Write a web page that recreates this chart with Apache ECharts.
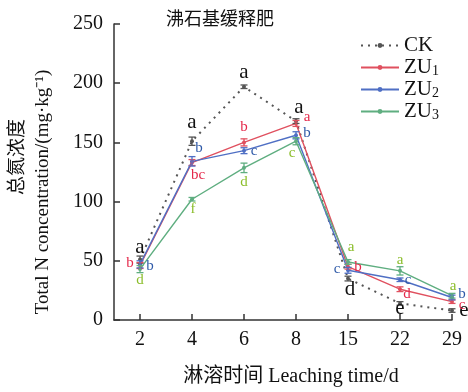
<!DOCTYPE html>
<html>
<head>
<meta charset="utf-8">
<script src="https://cdn.jsdelivr.net/npm/echarts@6/dist/echarts.min.js"></script>
<style>
  html, body { margin: 0; padding: 0; background: #fff; }
  #chart { width: 468px; height: 392px; }
</style>
</head>
<body>
<div id="chart"></div>
<script>
// leaching days
const days = ["2", "4", "6", "8", "15", "22", "29"];
// total N (mg/kg)
const ck = [51, 151, 197, 168, 35, 14, 8];
const zu1 = [46, 133, 150, 166, 45, 26, 15.5];
const zu2 = [47, 134, 143, 156, 42, 34, 19];
const zu3 = [43, 102, 128.5, 151, 49, 41.5, 20.5];
// error bars
const ckErr = [3, 3.5, 1.5, 2, 2, 1.5, 1.5];
const zu1Err = [2.5, 2.5, 3, 2.5, 2, 2, 1.5];
const zu2Err = [3, 4, 2.5, 3, 2.5, 1.5, 2];
const zu3Err = [3, 1.5, 4, 3, 2, 3.5, 2];
// significance letters
const ckSig = ["a", "a", "a", "a", "d", "e", "e"];
const zu1Sig = ["b", "bc", "b", "a", "b", "d", "c"];
const zu2Sig = ["b", "b", "c", "b", "c", "c", "b"];
const zu3Sig = ["d", "f", "d", "c", "a", "a", "a"];
const yTicks = [0, 50, 100, 150, 200, 250];

// label offsets (px from point)
const ckOff = [[0, -12], [0, -19], [0, -14], [3, -14], [2, 11], [0, 5], [12, 0]];
const zu1Off = [[-10, -2], [6, 13], [0, -15], [11, -6], [10, 0], [7, 5], [10, 3]];
const zu2Off = [[10, 2], [7, -13], [10, 0], [11, -2], [-11, -1], [8, 0], [10, -3]];
const zu3Off = [[0, 11], [1, 10], [0, 14], [-4, 12], [3, -15], [0, -11], [1, -10]];

const serif = "'Liberation Serif', 'Noto Sans CJK SC', serif";

// half-step category axis so the first day sits half a step from the y axis
const cats = [];
days.forEach(d => { cats.push(""); cats.push(d); });
const xi = i => 2 * i + 1;

const chartDom = echarts.init(document.getElementById("chart"));

const lineSeries = (name, vals, color, dotted) => ({
  name,
  type: "line",
  data: vals.map((v, i) => [xi(i), v]),
  symbol: "circle",
  symbolSize: 4,
  z: 3,
  itemStyle: { color },
  lineStyle: { color, width: dotted ? 2 : 1.4, type: dotted ? [2, 5] : "solid" },
  emphasis: { disabled: true }
});

const errSeries = (vals, errs, color) => ({
  type: "custom",
  z: 4,
  data: vals.map((v, i) => [xi(i), v, errs[i]]),
  renderItem(params, api) {
    const x = api.value(0), v = api.value(1), e = api.value(2);
    const t = api.coord([x, v + e]);
    const b = api.coord([x, v - e]);
    const w = 3.5;
    const st = { stroke: color, lineWidth: 1.3 };
    return {
      type: "group",
      children: [
        { type: "line", shape: { x1: t[0], y1: t[1], x2: b[0], y2: b[1] }, style: st },
        { type: "line", shape: { x1: t[0] - w, y1: t[1], x2: t[0] + w, y2: t[1] }, style: st },
        { type: "line", shape: { x1: b[0] - w, y1: b[1], x2: b[0] + w, y2: b[1] }, style: st }
      ]
    };
  }
});

const sigSeries = (vals, sig, offs, color, size) => ({
  type: "custom",
  z: 5,
  data: vals.map((v, i) => [xi(i), v, i]),
  renderItem(params, api) {
    const i = api.value(2);
    const p = api.coord([api.value(0), api.value(1)]);
    return {
      type: "text",
      style: {
        x: p[0] + offs[i][0],
        y: p[1] + offs[i][1],
        text: sig[i],
        fill: color,
        font: `${size}px ${serif}`,
        align: "center",
        verticalAlign: "middle"
      }
    };
  }
});

chartDom.setOption({
  animation: false,
  grid: { left: 114, right: 16, top: 24, bottom: 69 },
  graphic: [
    {
      type: "text", left: 166, top: 11,
      style: { text: "沸石基缓释肥", font: `18px ${serif}`, fill: "#111" }
    },
    {
      type: "text", x: 18, y: 157, rotation: Math.PI / 2,
      style: { text: "总氮浓度", font: `19px ${serif}`, fill: "#111", align: "center", verticalAlign: "middle" }
    },
    {
      type: "text", x: 43, y: 192, rotation: Math.PI / 2,
      style: { text: "Total N concentration/(mg·kg⁻¹)", font: `19px ${serif}`, fill: "#111", align: "center", verticalAlign: "middle" }
    }
  ],
  legend: {
    data: ["CK", "ZU1", "ZU2", "ZU3"],
    orient: "vertical",
    left: 355,
    top: 30,
    itemWidth: 38,
    itemHeight: 6,
    itemGap: 1,
    formatter(name) {
      return name === "CK" ? "{n|CK}" : `{n|ZU}{s|${name.slice(2)}}`;
    },
    textStyle: {
      rich: {
        n: { fontFamily: serif, fontSize: 21, color: "#111", lineHeight: 21 },
        s: { fontFamily: serif, fontSize: 14, color: "#111", lineHeight: 14, padding: [7, 0, 0, 0] }
      }
    }
  },
  xAxis: {
    type: "category",
    data: cats,
    boundaryGap: false,
    name: "淋溶时间 Leaching time/d",
    nameLocation: "middle",
    nameGap: 47,
    nameTextStyle: { fontFamily: serif, fontSize: 20, color: "#111", padding: [0, 0, 0, 16] },
    axisLine: { lineStyle: { color: "#333", width: 1.5 } },
    axisTick: { inside: true, length: 6, interval: i => i % 2 === 1, lineStyle: { color: "#333", width: 1.5 } },
    axisLabel: { interval: i => i % 2 === 1, fontFamily: serif, fontSize: 20, color: "#111", margin: 10 },
    splitLine: { show: false }
  },
  yAxis: {
    type: "value",
    min: yTicks[0],
    max: yTicks[yTicks.length - 1],
    interval: yTicks[1] - yTicks[0],
    axisLine: { show: true, lineStyle: { color: "#333", width: 1.5 } },
    axisTick: { show: true, inside: true, length: 6, lineStyle: { color: "#333", width: 1.5 } },
    axisLabel: { fontFamily: serif, fontSize: 20, color: "#111", margin: 11 },
    splitLine: { show: false }
  },
  series: [
    lineSeries("CK", ck, "#555", true),
    lineSeries("ZU1", zu1, "#e0505f", false),
    lineSeries("ZU2", zu2, "#4f6fc4", false),
    lineSeries("ZU3", zu3, "#5fae80", false),
    errSeries(ck, ckErr, "#555"),
    errSeries(zu1, zu1Err, "#e0505f"),
    errSeries(zu2, zu2Err, "#4f6fc4"),
    errSeries(zu3, zu3Err, "#5fae80"),
    sigSeries(ck, ckSig, ckOff, "#111", 21),
    sigSeries(zu1, zu1Sig, zu1Off, "#e4284a", 15),
    sigSeries(zu2, zu2Sig, zu2Off, "#2f5aa8", 15),
    sigSeries(zu3, zu3Sig, zu3Off, "#8bbd2a", 15)
  ]
});
window.addEventListener("resize", chartDom.resize);
</script>
</body>
</html>
